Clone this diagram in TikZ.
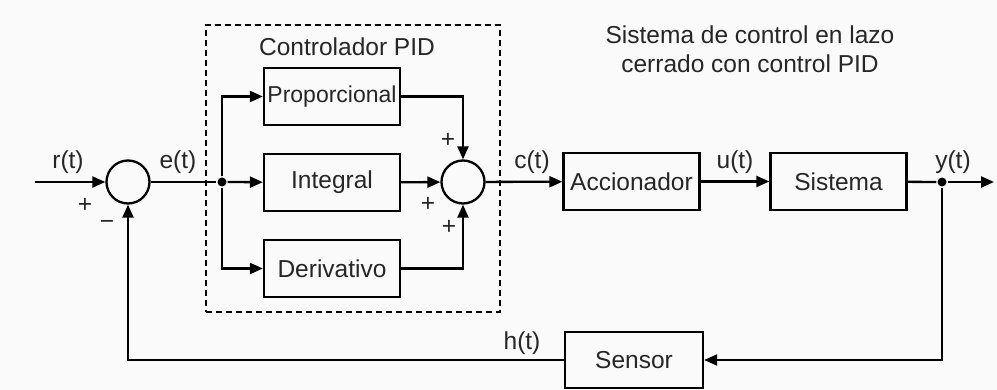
\documentclass[tikz,border=0pt]{standalone}
\usepackage{fontspec}
\setmainfont{Liberation Sans}
\usetikzlibrary{arrows.meta}
\begin{document}
\begin{tikzpicture}[x=1pt,y=-1pt,
  line width=2.3pt,
  every node/.style={font=\fontsize{24.5}{29}\selectfont, text=black!85},
  blk/.style={draw, minimum width=136pt, minimum height=57pt, inner sep=0pt},
  sumnode/.style={draw, circle, minimum size=43pt, inner sep=0pt},
  lbl/.style={inner sep=0pt},
  sig/.style={-{Triangle[length=13pt,width=11pt]}},
  dot/.style={circle, fill, inner sep=0pt, minimum size=9pt},
  pidbox/.style={draw, dash pattern=on 6pt off 4pt, minimum width=294pt, minimum height=287pt, inner sep=0pt}]

% canvas
\fill[black!2] (0,0) rectangle (997,390);
\useasboundingbox (0,0) rectangle (997,390);

% dashed frame around the PID controller
\node[pidbox] (pid) at (353,168.5) {};
\node[lbl] (pidlbl) at (347,47) {Controlador PID};

% summing junctions
\node[sumnode] (s1) at (128,182) {};
\node[sumnode] (s2) at (463,182) {};

% blocks
\node[blk, font=\fontsize{23}{28}\selectfont] (prop) at (332,96.5) {Proporcional};
\node[blk] (int) at (332,182.5) {Integral};
\node[blk] (der) at (332,268.5) {Derivativo};
\node[blk] (acc) at (631.5,181.5) {Accionador};
\node[blk] (sis) at (838.5,181.5) {Sistema};
\node[blk, minimum width=138pt, minimum height=56pt] (sen) at (634,360) {Sensor};

% branch points and free ends
\coordinate (in) at (35,182);
\node[dot] (b1) at (222,182) {};
\node[dot] (b2) at (942,182) {};
\coordinate (out) at (994,182);

% signal flow
\draw[sig] (in) -- (s1);
\draw (s1) -- (b1);
\draw[sig] (b1) -- (int);
\draw[sig] (b1) |- (prop);
\draw[sig] (b1) |- (der);
\draw[sig] (int) -- (s2);
\draw[sig] (prop) -| (s2);
\draw[sig] (der) -| (s2);
\draw[sig] (s2) -- (acc);
\draw[sig] (acc) -- (sis);
\draw (sis) -- (b2);
\draw[sig] (b2) -- (out);
\draw[sig] (b2) |- (sen);
\draw[sig] (sen) -| (s1);

% signal names and signs
\node[lbl] (lr) at (68,162) {r(t)};
\node[lbl] (le) at (178,162) {e(t)};
\node[lbl] (lc) at (532,162) {c(t)};
\node[lbl] (lu) at (735,162) {u(t)};
\node[lbl] (ly) at (953,162) {y(t)};
\node[lbl] (lh) at (522,343) {h(t)};
\node[lbl] (p1) at (85,205) {+};
\node[lbl] (m1) at (107,225) {−};
\node[lbl] (p2) at (448,140) {+};
\node[lbl] (p3) at (428,204) {+};
\node[lbl] (p4) at (449,227) {+};

% title
\node[lbl, align=center] (title) at (750,49) {Sistema de control en lazo\\cerrado con control PID};
\end{tikzpicture}
\end{document}
